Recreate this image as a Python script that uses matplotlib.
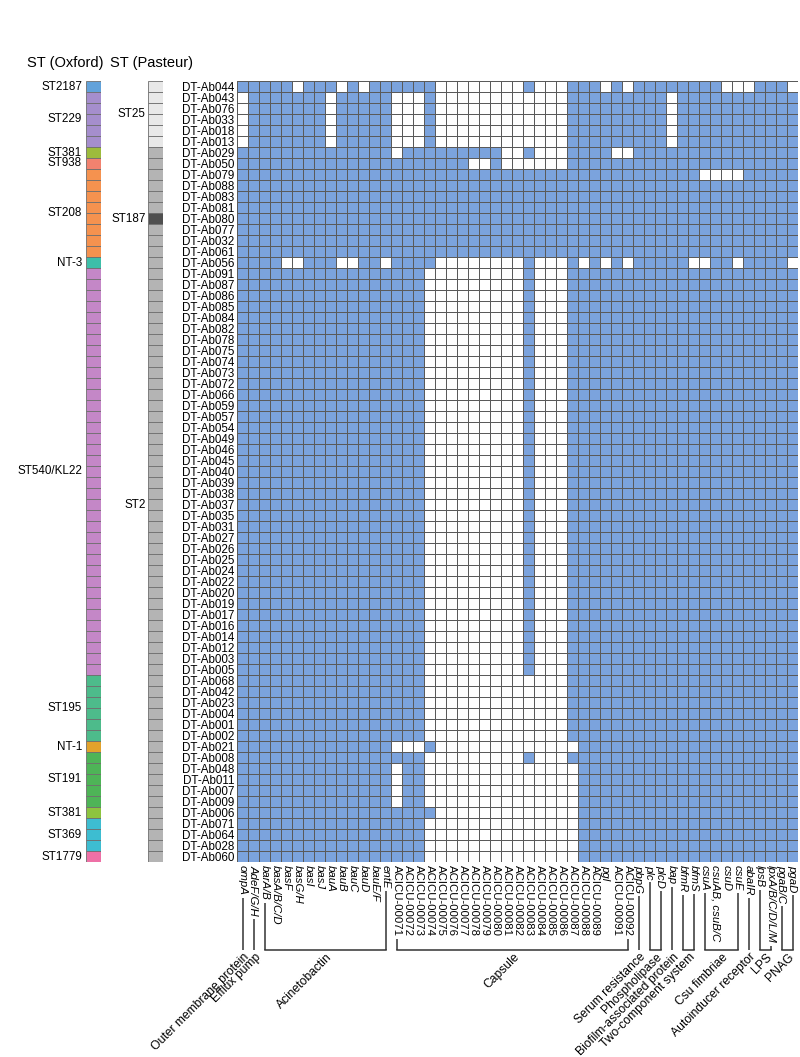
import numpy as np
import matplotlib.pyplot as plt
from matplotlib.colors import ListedColormap

plt.rcParams['font.family'] = ['Liberation Sans', 'DejaVu Sans']

W, H = 800, 1057

# isolates (top to bottom)
isolates = ['DT-Ab044', 'DT-Ab043', 'DT-Ab076', 'DT-Ab033', 'DT-Ab018', 'DT-Ab013',
            'DT-Ab029', 'DT-Ab050', 'DT-Ab079', 'DT-Ab088', 'DT-Ab083', 'DT-Ab081',
            'DT-Ab080', 'DT-Ab077', 'DT-Ab032', 'DT-Ab061', 'DT-Ab056', 'DT-Ab091',
            'DT-Ab087', 'DT-Ab086', 'DT-Ab085', 'DT-Ab084', 'DT-Ab082', 'DT-Ab078',
            'DT-Ab075', 'DT-Ab074', 'DT-Ab073', 'DT-Ab072', 'DT-Ab066', 'DT-Ab059',
            'DT-Ab057', 'DT-Ab054', 'DT-Ab049', 'DT-Ab046', 'DT-Ab045', 'DT-Ab040',
            'DT-Ab039', 'DT-Ab038', 'DT-Ab037', 'DT-Ab035', 'DT-Ab031', 'DT-Ab027',
            'DT-Ab026', 'DT-Ab025', 'DT-Ab024', 'DT-Ab022', 'DT-Ab020', 'DT-Ab019',
            'DT-Ab017', 'DT-Ab016', 'DT-Ab014', 'DT-Ab012', 'DT-Ab003', 'DT-Ab005',
            'DT-Ab068', 'DT-Ab042', 'DT-Ab023', 'DT-Ab004', 'DT-Ab001', 'DT-Ab002',
            'DT-Ab021', 'DT-Ab008', 'DT-Ab048', 'DT-Ab011', 'DT-Ab007', 'DT-Ab009',
            'DT-Ab006', 'DT-Ab071', 'DT-Ab064', 'DT-Ab028', 'DT-Ab060']

genes = ['ompA', 'AdeF/G/H', 'barA/B', 'basA/B/C/D', 'basF', 'basG/H', 'basI', 'basJ',
         'bauA', 'bauB', 'bauC', 'bauD', 'bauE/F', 'entE',
         'ACICU-00071', 'ACICU-00072', 'ACICU-00073', 'ACICU-00074', 'ACICU-00075',
         'ACICU-00076', 'ACICU-00077', 'ACICU-00078', 'ACICU-00079', 'ACICU-00080',
         'ACICU-00081', 'ACICU-00082', 'ACICU-00083', 'ACICU-00084', 'ACICU-00085',
         'ACICU-00086', 'ACICU-00087', 'ACICU-00088', 'ACICU-00089',
         'pgl', 'ACICU-00091', 'ACICU-00092', 'pbpG', 'plc', 'plcD', 'bap', 'bfmR', 'bfmS',
         'csuA', 'csuAB, csuB/C', 'csuD', 'csuE', 'abaIR', 'lpsB', 'lpxA/B/C/D/L/M',
         'pgaB/C', 'pgaD']

# presence (1) / absence (0): genes 0-13 | 14-32 | 33-50
presence = [
    "11111011101011 1111000000001000111 010111111110001110",  # 044
    "01111111011111 0001000000000000111 111111011111111111",  # 043
    "01111111011111 0001000000000000111 111111011111111111",  # 076
    "01111111011111 0001000000000000111 111111011111111111",  # 033
    "01111111011111 0001000000000000111 111111011111111111",  # 018
    "01111111011111 0001000000000000111 111111011111111111",  # 013
    "11111111111111 0111111111001000111 100111111111111111",  # 029
    "11111111111111 1111111001000000111 111111111111111111",  # 050
    "11111111111111 1111111111111111111 111111111000011111",  # 079
    "11111111111111 1111111111111111111 111111111111111111",  # 088
    "11111111111111 1111111111111111111 111111111111111111",  # 083
    "11111111111111 1111111111111111111 111111111111111111",  # 081
    "11111111111111 1111111111111111111 111111111111111111",  # 080
    "11111111111111 1111111111111111111 111111111111111111",  # 077
    "11111111111111 1111111111111111111 111111111111111111",  # 032
    "11111111111111 1111111111111111111 111111111111111111",  # 061
    "11110011100110 1111000000001000101 010111110011011110",  # 056
    "11111111111111 1110000000001000111 111111111111111111",  # 091
    "11111111111111 1110000000001000111 111111111111111111",  # 087
    "11111111111111 1110000000001000111 111111111111111111",  # 086
    "11111111111111 1110000000001000111 111111111111111111",  # 085
    "11111111111111 1110000000001000111 111111111111111111",  # 084
    "11111111111111 1110000000001000111 111111111111111111",  # 082
    "11111111111111 1110000000001000111 111111111111111111",  # 078
    "11111111111111 1110000000001000111 111111111111111111",  # 075
    "11111111111111 1110000000001000111 111111111111111111",  # 074
    "11111111111111 1110000000001000111 111111111111111111",  # 073
    "11111111111111 1110000000001000111 111111111111111111",  # 072
    "11111111111111 1110000000001000111 111111111111111111",  # 066
    "11111111111111 1110000000001000111 111111111111111111",  # 059
    "11111111111111 1110000000001000111 111111111111111111",  # 057
    "11111111111111 1110000000001000111 111111111111111111",  # 054
    "11111111111111 1110000000001000111 111111111111111111",  # 049
    "11111111111111 1110000000001000111 111111111111111111",  # 046
    "11111111111111 1110000000001000111 111111111111111111",  # 045
    "11111111111111 1110000000001000111 111111111111111111",  # 040
    "11111111111111 1110000000001000111 111111111111111111",  # 039
    "11111111111111 1110000000001000111 111111111111111111",  # 038
    "11111111111111 1110000000001000111 111111111111111111",  # 037
    "11111111111111 1110000000001000111 111111111111111111",  # 035
    "11111111111111 1110000000001000111 111111111111111111",  # 031
    "11111111111111 1110000000001000111 111111111111111111",  # 027
    "11111111111111 1110000000001000111 111111111111111111",  # 026
    "11111111111111 1110000000001000111 111111111111111111",  # 025
    "11111111111111 1110000000001000111 111111111111111111",  # 024
    "11111111111111 1110000000001000111 111111111111111111",  # 022
    "11111111111111 1110000000001000111 111111111111111111",  # 020
    "11111111111111 1110000000001000111 111111111111111111",  # 019
    "11111111111111 1110000000001000111 111111111111111111",  # 017
    "11111111111111 1110000000001000111 111111111111111111",  # 016
    "11111111111111 1110000000001000111 111111111111111111",  # 014
    "11111111111111 1110000000001000111 111111111111111111",  # 012
    "11111111111111 1110000000001000111 111111111111111111",  # 003
    "11111111111111 1110000000001000111 111111111111111111",  # 005
    "11111111111111 1110000000000000111 111111111111111111",  # 068
    "11111111111111 1110000000000000111 111111111111111111",  # 042
    "11111111111111 1110000000000000111 111111111111111111",  # 023
    "11111111111111 1110000000000000111 111111111111111111",  # 004
    "11111111111111 1110000000000000111 111111111111111111",  # 001
    "11111111111111 1110000000000000111 111111111111111111",  # 002
    "11111111111111 0001000000000000011 111111111111111111",  # 021
    "11111111111111 1110000000001000111 111111111111111111",  # 008
    "11111111111111 0110000000000000011 111111111111111111",  # 048
    "11111111111111 0110000000000000011 111111111111111111",  # 011
    "11111111111111 0110000000000000011 111111111111111111",  # 007
    "11111111111111 0110000000000000011 111111111111111111",  # 009
    "11111111111111 1111000000000000011 111111111111111111",  # 006
    "11111111111111 1110000000000000011 111111111111111111",  # 071
    "11111111111111 1110000000000000011 111111111111111111",  # 064
    "11111111111111 1110000000000000011 111111111111111111",  # 028
    "11111111111111 1110000000000000011 111111111111111111",  # 060
]

oxford_st = ['ST2187', 'ST229', 'ST381', 'ST938', 'ST208', 'NT-3', 'ST540/KL22',
             'ST195', 'NT-1', 'ST191', 'ST381', 'ST369', 'ST1779']
oxford_n = [1, 5, 1, 1, 8, 1, 37, 6, 1, 5, 1, 3, 1]
oxford_colors = ['#62a2da', '#a58ecd', '#9dbb3c', '#f2826f', '#f5924f', '#3dbfa9', '#c487c7',
                 '#4dbb8b', '#e2a22b', '#4eb457', '#8dc43f', '#3dbdd1', '#ee70a6']

pasteur_st = ['ST25', 'ST2', 'ST187', 'ST2']
pasteur_n = [6, 6, 1, 58]
pasteur_colors = {'ST25': '#e8e8e8', 'ST2': '#b4b4b4', 'ST187': '#4f4f4f'}

groups = [('Outer membrane protein', 0, 0), ('Efflux pump', 1, 1), ('Acinetobactin', 2, 13),
          ('Capsule', 14, 35), ('Serum resistance', 36, 36), ('Phospholipase', 37, 38),
          ('Biofilm-associated protein', 39, 39), ('Two-component system', 40, 41),
          ('Csu fimbriae', 42, 45), ('Autoinducer receptor', 46, 46), ('LPS', 47, 48),
          ('PNAG', 49, 50)]

mat = np.array([[int(ch) for ch in r.replace(' ', '')] for r in presence])
nr, nc = mat.shape


def rect(x0, y0, x1, y1):
    return [x0 / W, 1 - y1 / H, (x1 - x0) / W, (y1 - y0) / H]


fig = plt.figure(figsize=(W / 100, H / 100), dpi=100)

# heatmap
ax = fig.add_axes(rect(237, 81, 798, 862))
ax.pcolormesh(mat, cmap=ListedColormap(['white', '#7ba3dd']), vmin=0, vmax=1,
              edgecolors='#5a5a5a', linewidth=0.7)
ax.set_xlim(0, nc)
ax.set_ylim(nr, 0)
ax.set_yticks(np.arange(nr) + 0.5)
ax.set_yticklabels(isolates, fontsize=8.4)
ax.set_xticks(np.arange(nc) + 0.5)
ax.set_xticklabels(genes, fontsize=8.2, rotation=-90, va='top', ha='center')
for lab, g in zip(ax.get_xticklabels(), genes):
    if not g.startswith('ACICU'):
        lab.set_fontstyle('italic')
ax.tick_params(length=0, pad=2)
for s in ax.spines.values():
    s.set_visible(False)


def side_bar(x0, x1, names, counts, colors):
    a = fig.add_axes(rect(x0, 81, x1, 862))
    rows = []
    for nm, n, col in zip(names, counts, colors):
        rows += [col] * n
    a.barh(np.arange(nr), 1, height=1, color=rows, edgecolor='#6e6e6e', linewidth=0.6)
    a.set_xlim(0, 1)
    a.set_ylim(nr - 0.5, -0.5)
    a.axis('off')
    return a


ax_ox = side_bar(86, 101, oxford_st, oxford_n, oxford_colors)
start = 0
for nm, n in zip(oxford_st, oxford_n):
    ax_ox.text(-0.27, start + (n - 1) / 2, nm, ha='right', va='center', fontsize=8.4)
    start += n

ax_pa = side_bar(148, 163, pasteur_st, pasteur_n, [pasteur_colors[s] for s in pasteur_st])
start = 0
spans = {}
for nm, n in zip(pasteur_st, pasteur_n):
    spans.setdefault(nm, []).append((start, start + n - 1))
    start += n
for nm, sp in spans.items():
    lo = min(s[0] for s in sp)
    hi = max(s[1] for s in sp)
    ax_pa.text(-0.15, (lo + hi) / 2, nm, ha='right', va='center', fontsize=8.4)

fig.text(27 / W, 1 - 63 / H, 'ST (Oxford)', ha='left', va='center', fontsize=10.5)
fig.text(110 / W, 1 - 63 / H, 'ST (Pasteur)', ha='left', va='center', fontsize=10.5)

# group brackets below the gene labels
fig.canvas.draw()
renderer = fig.canvas.get_renderer()
over = fig.add_axes([0, 0, 1, 1])
over.set_xlim(0, W)
over.set_ylim(H, 0)
over.axis('off')
labels = ax.get_xticklabels()
y_bot = 950


def col_x(c):
    return ax.transData.transform((c + 0.5, 0))[0]


for name, a, b in groups:
    for c in sorted({a, b}):
        bb = labels[c].get_window_extent(renderer)
        y_end = H - bb.y0 + 3
        over.plot([col_x(c), col_x(c)], [y_end, y_bot], color='#333333', lw=1.1,
                  solid_capstyle='butt')
    if a != b:
        over.plot([col_x(a), col_x(b)], [y_bot, y_bot], color='#333333', lw=1.1,
                  solid_capstyle='projecting')
    xm = (col_x(a) + col_x(b)) / 2
    over.text(xm + 1, y_bot + 1, name, rotation=45, ha='right', va='top',
              rotation_mode='anchor', fontsize=8.7)

fig.savefig('out.png', dpi=100)
